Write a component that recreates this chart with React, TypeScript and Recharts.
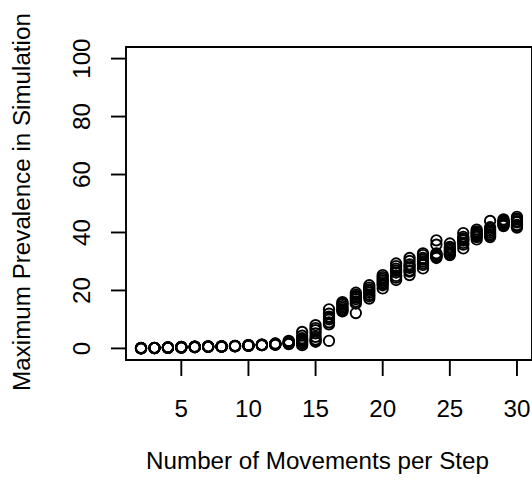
import React from 'react';
import { ScatterChart, Scatter, XAxis, YAxis, ReferenceArea } from 'recharts';

const steps = [2, 3, 4, 5, 6, 7, 8, 9, 10, 11, 12, 13, 14, 15, 16, 17, 18, 19, 20, 21, 22, 23, 24, 25, 26, 27, 28, 29, 30];

// one array per simulation run, one value per step count
const run1 = [0.0, 0.1, 0.3, 0.4, 0.5, 0.6, 0.6, 0.8, 0.9, 1.1, 1.3, 1.5, 1.1, 2.3, 2.6, 12.8, 12.2, 17.2, 20.7, 23.6, 25.3, 27.6, 31.2, 32.2, 34.5, 37.6, 38.4, 42.2, 41.7];
const run2 = [0.1, 0.2, 0.2, 0.3, 0.6, 0.6, 0.7, 0.8, 1.0, 1.2, 1.5, 2.2, 3.5, 4.0, 8.3, 14.0, 16.2, 18.5, 21.8, 25.0, 26.5, 28.8, 35.8, 33.0, 35.8, 38.4, 41.8, 43.0, 42.6];
const run3 = [0.1, 0.1, 0.3, 0.5, 0.4, 0.7, 0.6, 0.9, 1.0, 1.1, 1.4, 1.8, 5.7, 8.0, 13.5, 15.2, 19.2, 19.8, 22.9, 26.2, 27.8, 30.0, 32.5, 34.0, 37.2, 39.2, 40.6, 43.8, 43.5];
const run4 = [0.0, 0.2, 0.4, 0.3, 0.5, 0.6, 0.7, 0.8, 1.1, 1.3, 1.6, 2.6, 2.6, 6.3, 12.0, 16.0, 18.0, 21.0, 24.0, 27.5, 29.0, 31.2, 31.6, 35.0, 38.5, 40.0, 39.4, 44.5, 44.5];
const run5 = [0.2, 0.1, 0.2, 0.4, 0.6, 0.5, 0.6, 0.7, 0.9, 1.2, 1.3, 1.6, 1.6, 3.1, 11.0, 13.5, 17.0, 21.8, 25.3, 29.3, 30.2, 32.2, 37.3, 36.2, 39.8, 41.0, 44.0, 42.6, 45.4];
const run6 = [0.1, 0.2, 0.3, 0.3, 0.5, 0.6, 0.7, 0.9, 1.0, 1.1, 1.5, 2.0, 3.0, 5.2, 10.0, 14.6, 15.5, 20.4, 23.5, 24.4, 31.2, 32.8, 32.0, 33.6, 36.4, 39.6, 40.0, 43.4, 42.2];
const run7 = [0.0, 0.1, 0.3, 0.4, 0.4, 0.7, 0.6, 0.8, 1.1, 1.2, 1.4, 2.4, 4.4, 7.0, 9.0, 15.6, 17.5, 19.2, 22.3, 26.8, 28.4, 29.4, 31.8, 34.6, 38.0, 38.8, 39.0, 44.0, 43.9];
const run8 = [0.1, 0.1, 0.2, 0.5, 0.6, 0.6, 0.7, 0.8, 1.0, 1.3, 1.7, 1.9, 2.2, 2.8, 10.5, 13.2, 18.5, 18.0, 24.6, 28.4, 26.9, 30.6, 32.8, 32.6, 37.6, 40.4, 41.2, 42.9, 44.8];

const runs = [run1, run2, run3, run4, run5, run6, run7, run8];

const xTicks = [5, 10, 15, 20, 25, 30];
const yTicks = [0, 20, 40, 60, 80, 100];

const FONT = '"Liberation Sans", Arial, Helvetica, sans-serif';
const FS = 24.2;

const points = runs.flatMap(r => r.map((v, i) => ({ x: steps[i], y: v })));

const OpenCircle = (p: any) => (
  <circle cx={p.cx} cy={p.cy} r={5.2} fill="none" stroke="#000" strokeWidth={1.9} />
);

const XTick = ({ x, y, payload }: any) => (
  <text x={x} y={y + 40.6} textAnchor="middle" fontSize={FS} fontFamily={FONT} fill="#000">
    {payload.value}
  </text>
);

const YTick = ({ x, y, payload }: any) => (
  <text x={x} y={y} transform={`rotate(-90 ${x} ${y})`} textAnchor="middle" fontSize={FS} fontFamily={FONT} fill="#000">
    {payload.value}
  </text>
);

export default function App() {
  return (
    <div style={{ position: 'absolute', left: 0, top: 0, width: 532, height: 480, background: '#fff' }}>
      <ScatterChart width={532} height={480} margin={{ top: 47, right: 0, bottom: 0, left: 0 }}>
        <XAxis
          type="number"
          dataKey="x"
          domain={[0.88, 31.12]}
          ticks={xTicks}
          allowDataOverflow
          height={120}
          axisLine={false}
          tickSize={16}
          tickMargin={0}
          tickLine={{ stroke: '#000', strokeWidth: 1.9 }}
          tick={<XTick />}
          label={{
            content: () => (
              <text x={317.5} y={469} textAnchor="middle" fontSize={FS} fontFamily={FONT} fill="#000">
                Number of Movements per Step
              </text>
            ),
          }}
        />
        <YAxis
          type="number"
          dataKey="y"
          domain={[-4, 104]}
          ticks={yTicks}
          allowDataOverflow
          width={126}
          axisLine={false}
          tickSize={15}
          tickMargin={21}
          tickLine={{ stroke: '#000', strokeWidth: 1.9 }}
          tick={<YTick />}
          label={{
            content: () => (
              <text x={29.5} y={202} transform="rotate(-90 29.5 202)" textAnchor="middle" fontSize={FS} fontFamily={FONT} fill="#000">
                Maximum Prevalence in Simulation
              </text>
            ),
          }}
        />
        <ReferenceArea x1={0.88} x2={31.12} y1={-4} y2={104} fill="none" stroke="#000" strokeWidth={1.9} />
        <Scatter data={points} shape={OpenCircle} isAnimationActive={false} />
      </ScatterChart>
    </div>
  );
}
